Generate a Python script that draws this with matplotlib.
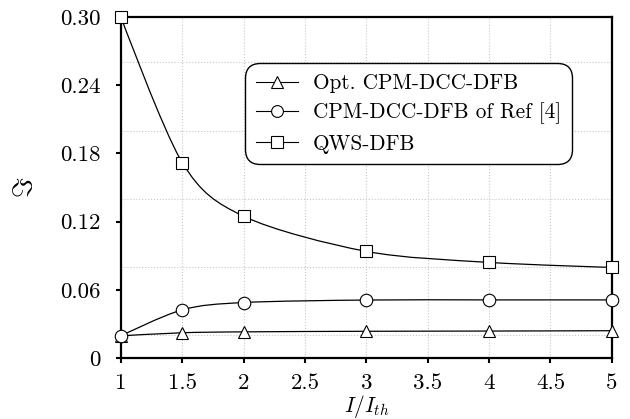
import numpy as np
import matplotlib
matplotlib.use("Agg")
import matplotlib.pyplot as plt
from matplotlib.path import Path
from matplotlib.patches import PathPatch
from matplotlib.lines import Line2D

plt.rcParams['font.family'] = 'serif'
plt.rcParams['font.serif'] = ['cmr10']
plt.rcParams['mathtext.fontset'] = 'cm'
plt.rcParams['axes.formatter.use_mathtext'] = True
plt.rcParams['font.size'] = 16

# === Daten ===
i_ratio = [1, 1.5, 2, 3, 4, 5]
opt_cpm = [0.0195, 0.0222, 0.0230, 0.0235, 0.0237, 0.0240]
cpm_ref4 = [0.0195, 0.0424, 0.0488, 0.0510, 0.0511, 0.0511]
qws = [0.300, 0.1718, 0.1247, 0.0938, 0.0841, 0.0797]

labels = ['Opt. CPM-DCC-DFB', 'CPM-DCC-DFB of Ref [4]', 'QWS-DFB']
markers = ['^', 'o', 's']

x_ticks = [1, 1.5, 2, 2.5, 3, 3.5, 4, 4.5, 5]
x_ticklabels = ['1', '1.5', '2', '2.5', '3', '3.5', '4', '4.5', '5']
y_ticks = [0, 0.06, 0.12, 0.18, 0.24, 0.30]
y_ticklabels = ['0', '0.06', '0.12', '0.18', '0.24', '0.30']
y_grid = [0.02, 0.08, 0.14, 0.20, 0.26]


def smooth_path(x, y, tension=0.55):
    # glatte Kurve wie "smooth" in pgfplots (kubische Bezier-Segmente)
    p = np.column_stack([x, y]).astype(float)
    t = 0.2775 * tension
    n = len(p)
    verts = [p[0]]
    codes = [Path.MOVETO]
    for i in range(n - 1):
        c1 = p[i] if i == 0 else p[i] + t * (p[i + 1] - p[i - 1])
        c2 = p[i + 1] if i == n - 2 else p[i + 1] - t * (p[i + 2] - p[i])
        verts += [c1, c2, p[i + 1]]
        codes += [Path.CURVE4] * 3
    return Path(verts, codes)


fig = plt.figure(figsize=(6.3, 4.19), dpi=100)
ax = fig.add_axes([0.192, 0.1456, 0.779, 0.8138])

for y, m in zip([opt_cpm, cpm_ref4, qws], markers):
    ax.add_patch(PathPatch(smooth_path(i_ratio, y), fill=False, edgecolor='black',
                           linewidth=0.9, zorder=3))
    ax.plot(i_ratio, y, linestyle='none', marker=m, markersize=9,
            markerfacecolor='white', markeredgecolor='black', markeredgewidth=0.8,
            clip_on=False, zorder=4)

ax.set_xlim(1, 5)
ax.set_ylim(0, 0.30)
ax.set_xticks(x_ticks)
ax.set_xticklabels(x_ticklabels)
ax.set_yticks(y_ticks)
ax.set_yticklabels(y_ticklabels)
ax.set_yticks(y_grid, minor=True)

ax.grid(True, which='major', axis='x', linestyle=':', linewidth=0.8, color='#c8c8c8')
ax.grid(True, which='minor', axis='y', linestyle=':', linewidth=0.8, color='#c8c8c8')
ax.tick_params(which='major', direction='out', length=3.5, width=1.5, labelsize=16.5)
ax.tick_params(axis='x', pad=8)
ax.tick_params(axis='y', pad=11)
ax.tick_params(which='minor', length=0)
for s in ax.spines.values():
    s.set_linewidth(1.6)

ax.set_xlabel(r'$I/I_{th}$', fontsize=15.5, labelpad=0)
ax.set_ylabel(r'$\Im$', fontsize=20, labelpad=16)

handles = [Line2D([], [], color='black', linewidth=0.8, marker=m, markersize=8.5,
                  markerfacecolor='white', markeredgecolor='black', markeredgewidth=0.8)
           for m in markers]
leg = ax.legend(handles, labels, loc='upper left', bbox_to_anchor=(0.2525, 0.865),
                borderaxespad=0, fancybox=True, framealpha=1, edgecolor='black',
                fontsize=15.3, handlelength=2.0, handletextpad=0.7, labelspacing=0.45,
                borderpad=0.5)
leg.get_frame().set_linewidth(1.0)
leg.get_frame().set_boxstyle('round', pad=0, rounding_size=0.7)

fig.savefig('out.png', dpi=100)
